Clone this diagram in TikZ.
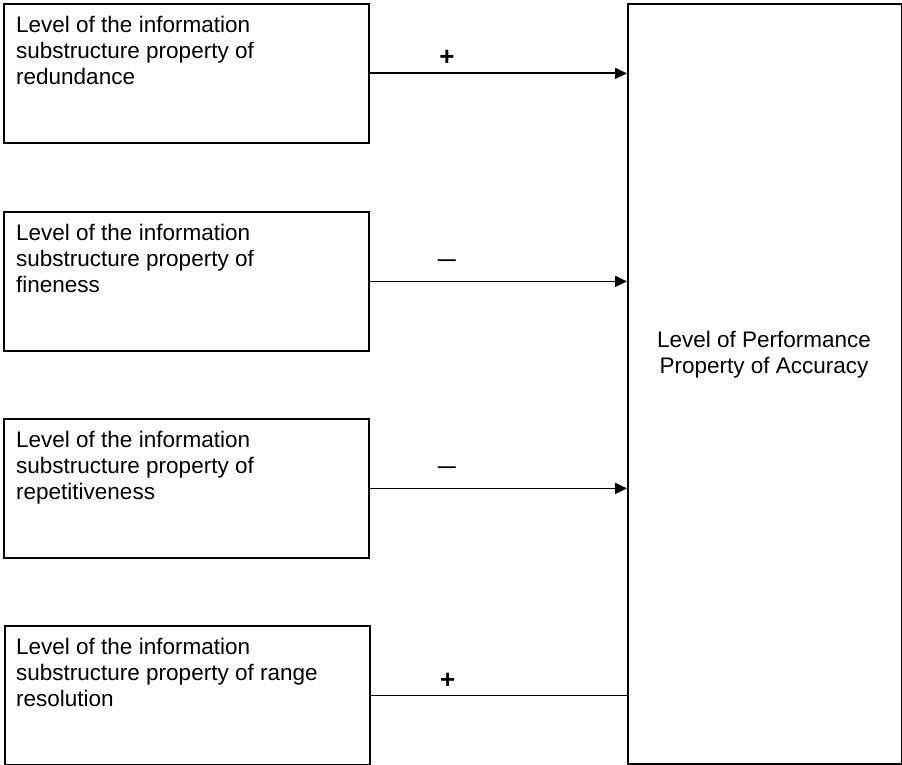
\documentclass[tikz,border=0pt]{standalone}
\usepackage{fontspec}
\setmainfont{Liberation Sans}
\usetikzlibrary{arrows.meta}
\begin{document}
\begin{tikzpicture}[x=1pt,y=-1pt,
  frame/.style={draw=black, line width=1.8pt, inner sep=0pt, anchor=north west},
  inbox/.style={frame, minimum width=365pt, minimum height=139pt},
  boxtext/.style={anchor=north west, inner sep=0pt, align=left,
    font=\fontsize{22.5}{26}\selectfont},
  conn/.style={line width=1.8pt},
  arr/.style={conn, -{Triangle[length=12pt, width=11pt]}},
  plus/.style={inner sep=0pt, font=\bfseries\fontsize{26}{26}\selectfont},
  minus/.style={inner sep=0pt, font=\bfseries\fontsize{18}{18}\selectfont}]
\useasboundingbox (0,0) rectangle (902,765);

% source boxes on the left
\node[inbox] (b1) at (3,3)   {};
\node[inbox] (b2) at (3,211) {};
\node[inbox] (b3) at (3,418) {};
\node[inbox] (b4) at (4,625) {};

% target box on the right
\node[frame, minimum width=274pt, minimum height=760pt] (r) at (627,3) {};

% box captions
\node[boxtext] (t1) at (16,15.6)  {Level of the information\\substructure property of\\redundance};
\node[boxtext] (t2) at (16,223.6) {Level of the information\\substructure property of\\fineness};
\node[boxtext] (t3) at (16,430.6) {Level of the information\\substructure property of\\repetitiveness};
\node[boxtext] (t4) at (16,637.6) {Level of the information\\substructure property of range\\resolution};
\node[boxtext, align=center, anchor=north] (tr) at (764,330.6)
  {Level of Performance\\Property of Accuracy};

% influence connectors with their signs
\draw[arr]  (b1.east) -- (b1.east -| r.west) node[plus,  pos=0.3, yshift=16pt] (s1) {+};
\draw[arr]  (b2.east) -- (b2.east -| r.west) node[minus, pos=0.3, yshift=19pt] (s2) {—};
\draw[arr]  (b3.east) -- (b3.east -| r.west) node[minus, pos=0.3, yshift=19pt] (s3) {—};
\draw[conn] (b4.east) -- (b4.east -| r.west) node[plus,  pos=0.3, yshift=15pt] (s4) {+};
\end{tikzpicture}
\end{document}
